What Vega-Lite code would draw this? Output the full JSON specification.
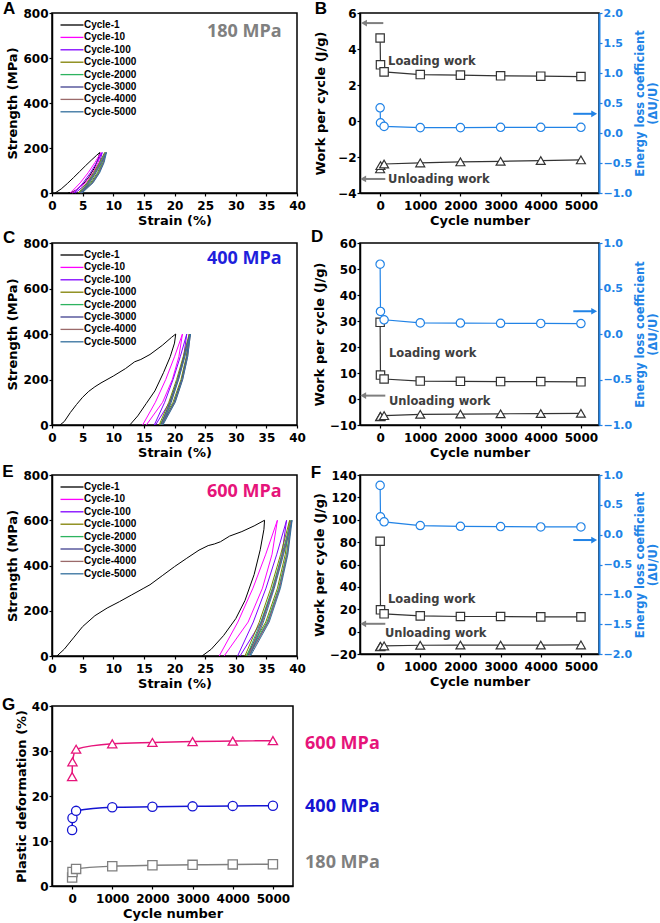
{
  "$schema": "https://vega.github.io/schema/vega-lite/v6.json",
  "background": "white",
  "autosize": {"type": "none"},
  "padding": {"left": 52, "top": 13, "right": 608, "bottom": 910},
  "config": {
    "view": {"stroke": "black", "strokeWidth": 1.5},
    "axis": {
      "grid": false, "labelOverlap": false, "labelFlush": false,
      "labelFont": "DejaVu Sans", "labelFontWeight": "bold", "labelFontSize": 12, "labelColor": "black",
      "titleFont": "DejaVu Sans", "titleFontWeight": "bold", "titleFontSize": 13, "titleColor": "black",
      "domainColor": "black", "domainWidth": 1.5, "tickColor": "black", "tickWidth": 1.2, "tickSize": 3,
      "labelPadding": 1, "titlePadding": 3
    },
    "axisX": {"labelPadding": 4, "titlePadding": 3},
    "legend": {
      "orient": "top-left", "offset": 6, "padding": 0,
      "labelFont": "Liberation Sans", "labelFontSize": 10, "labelFontWeight": "bold", "labelColor": "black",
      "symbolSize": 100, "symbolStrokeWidth": 1.3, "symbolOffset": 8, "labelOffset": 6, "rowPadding": 1.4
    }
  },
  "datasets": {
    "curveA": [
      {"c":"Cycle-1","o":0,"x":0.5,"y":0},{"c":"Cycle-1","o":1,"x":1.5,"y":18},{"c":"Cycle-1","o":2,"x":2.5,"y":42},{"c":"Cycle-1","o":3,"x":3.5,"y":68},{"c":"Cycle-1","o":4,"x":4.5,"y":95},{"c":"Cycle-1","o":5,"x":5.5,"y":122},{"c":"Cycle-1","o":6,"x":6.5,"y":148},{"c":"Cycle-1","o":7,"x":7.3,"y":168},{"c":"Cycle-1","o":8,"x":7.8,"y":180},{"c":"Cycle-1","o":9,"x":7.5,"y":150},{"c":"Cycle-1","o":10,"x":6.9,"y":110},{"c":"Cycle-1","o":11,"x":6.0,"y":70},{"c":"Cycle-1","o":12,"x":5.0,"y":37},{"c":"Cycle-1","o":13,"x":4.0,"y":14},{"c":"Cycle-1","o":14,"x":3.2,"y":3},{"c":"Cycle-1","o":15,"x":2.6,"y":0},
      {"c":"Cycle-10","o":0,"x":3.0,"y":0},{"c":"Cycle-10","o":1,"x":4.6,"y":45},{"c":"Cycle-10","o":2,"x":5.9,"y":90},{"c":"Cycle-10","o":3,"x":7.0,"y":135},{"c":"Cycle-10","o":4,"x":8.0,"y":180},{"c":"Cycle-10","o":5,"x":7.53,"y":135},{"c":"Cycle-10","o":6,"x":6.68,"y":90},{"c":"Cycle-10","o":7,"x":5.42,"y":45},{"c":"Cycle-10","o":8,"x":3.3,"y":0},
      {"c":"Cycle-100","o":0,"x":3.6,"y":0},{"c":"Cycle-100","o":1,"x":5.07,"y":45},{"c":"Cycle-100","o":2,"x":6.27,"y":90},{"c":"Cycle-100","o":3,"x":7.28,"y":135},{"c":"Cycle-100","o":4,"x":8.2,"y":180},{"c":"Cycle-100","o":5,"x":7.76,"y":135},{"c":"Cycle-100","o":6,"x":6.97,"y":90},{"c":"Cycle-100","o":7,"x":5.78,"y":45},{"c":"Cycle-100","o":8,"x":3.8,"y":0},
      {"c":"Cycle-1000","o":0,"x":4.3,"y":0},{"c":"Cycle-1000","o":1,"x":5.68,"y":45},{"c":"Cycle-1000","o":2,"x":6.79,"y":90},{"c":"Cycle-1000","o":3,"x":7.74,"y":135},{"c":"Cycle-1000","o":4,"x":8.6,"y":180},{"c":"Cycle-1000","o":5,"x":8.18,"y":135},{"c":"Cycle-1000","o":6,"x":7.42,"y":90},{"c":"Cycle-1000","o":7,"x":6.29,"y":45},{"c":"Cycle-1000","o":8,"x":4.4,"y":0},
      {"c":"Cycle-2000","o":0,"x":4.5,"y":0},{"c":"Cycle-2000","o":1,"x":5.84,"y":45},{"c":"Cycle-2000","o":2,"x":6.94,"y":90},{"c":"Cycle-2000","o":3,"x":7.86,"y":135},{"c":"Cycle-2000","o":4,"x":8.7,"y":180},{"c":"Cycle-2000","o":5,"x":8.29,"y":135},{"c":"Cycle-2000","o":6,"x":7.55,"y":90},{"c":"Cycle-2000","o":7,"x":6.45,"y":45},{"c":"Cycle-2000","o":8,"x":4.6,"y":0},
      {"c":"Cycle-3000","o":0,"x":4.6,"y":0},{"c":"Cycle-3000","o":1,"x":5.94,"y":45},{"c":"Cycle-3000","o":2,"x":7.04,"y":90},{"c":"Cycle-3000","o":3,"x":7.96,"y":135},{"c":"Cycle-3000","o":4,"x":8.8,"y":180},{"c":"Cycle-3000","o":5,"x":8.39,"y":135},{"c":"Cycle-3000","o":6,"x":7.65,"y":90},{"c":"Cycle-3000","o":7,"x":6.55,"y":45},{"c":"Cycle-3000","o":8,"x":4.7,"y":0},
      {"c":"Cycle-4000","o":0,"x":4.7,"y":0},{"c":"Cycle-4000","o":1,"x":6.01,"y":45},{"c":"Cycle-4000","o":2,"x":7.08,"y":90},{"c":"Cycle-4000","o":3,"x":7.98,"y":135},{"c":"Cycle-4000","o":4,"x":8.8,"y":180},{"c":"Cycle-4000","o":5,"x":8.4,"y":135},{"c":"Cycle-4000","o":6,"x":7.68,"y":90},{"c":"Cycle-4000","o":7,"x":6.6,"y":45},{"c":"Cycle-4000","o":8,"x":4.8,"y":0},
      {"c":"Cycle-5000","o":0,"x":4.8,"y":0},{"c":"Cycle-5000","o":1,"x":6.11,"y":45},{"c":"Cycle-5000","o":2,"x":7.18,"y":90},{"c":"Cycle-5000","o":3,"x":8.08,"y":135},{"c":"Cycle-5000","o":4,"x":8.9,"y":180},{"c":"Cycle-5000","o":5,"x":8.5,"y":135},{"c":"Cycle-5000","o":6,"x":7.78,"y":90},{"c":"Cycle-5000","o":7,"x":6.7,"y":45},{"c":"Cycle-5000","o":8,"x":4.9,"y":0}
    ],
    "curveC": [
      {"c":"Cycle-1","o":0,"x":1.3,"y":0},{"c":"Cycle-1","o":1,"x":2,"y":15},{"c":"Cycle-1","o":2,"x":3,"y":55},{"c":"Cycle-1","o":3,"x":4,"y":90},{"c":"Cycle-1","o":4,"x":5,"y":122},{"c":"Cycle-1","o":5,"x":6,"y":148},{"c":"Cycle-1","o":6,"x":7,"y":168},{"c":"Cycle-1","o":7,"x":8,"y":185},{"c":"Cycle-1","o":8,"x":10,"y":215},{"c":"Cycle-1","o":9,"x":12,"y":248},{"c":"Cycle-1","o":10,"x":13.5,"y":278},{"c":"Cycle-1","o":11,"x":14.5,"y":288},{"c":"Cycle-1","o":12,"x":16,"y":310},{"c":"Cycle-1","o":13,"x":18,"y":350},{"c":"Cycle-1","o":14,"x":19.5,"y":385},{"c":"Cycle-1","o":15,"x":20.2,"y":400},{"c":"Cycle-1","o":16,"x":20.0,"y":360},{"c":"Cycle-1","o":17,"x":19.3,"y":300},{"c":"Cycle-1","o":18,"x":18.2,"y":230},{"c":"Cycle-1","o":19,"x":16.8,"y":150},{"c":"Cycle-1","o":20,"x":15.4,"y":95},{"c":"Cycle-1","o":21,"x":14.0,"y":40},{"c":"Cycle-1","o":22,"x":12.7,"y":0},
      {"c":"Cycle-10","o":0,"x":14.8,"y":0},{"c":"Cycle-10","o":1,"x":16.88,"y":100},{"c":"Cycle-10","o":2,"x":18.57,"y":200},{"c":"Cycle-10","o":3,"x":20.0,"y":300},{"c":"Cycle-10","o":4,"x":21.3,"y":400},{"c":"Cycle-10","o":5,"x":20.71,"y":300},{"c":"Cycle-10","o":6,"x":19.65,"y":200},{"c":"Cycle-10","o":7,"x":18.06,"y":100},{"c":"Cycle-10","o":8,"x":15.4,"y":0},
      {"c":"Cycle-100","o":0,"x":16.7,"y":0},{"c":"Cycle-100","o":1,"x":18.4,"y":100},{"c":"Cycle-100","o":2,"x":19.77,"y":200},{"c":"Cycle-100","o":3,"x":20.94,"y":300},{"c":"Cycle-100","o":4,"x":22.0,"y":400},{"c":"Cycle-100","o":5,"x":21.49,"y":300},{"c":"Cycle-100","o":6,"x":20.57,"y":200},{"c":"Cycle-100","o":7,"x":19.2,"y":100},{"c":"Cycle-100","o":8,"x":16.9,"y":0},
      {"c":"Cycle-1000","o":0,"x":17.5,"y":0},{"c":"Cycle-1000","o":1,"x":19.07,"y":100},{"c":"Cycle-1000","o":2,"x":20.34,"y":200},{"c":"Cycle-1000","o":3,"x":21.42,"y":300},{"c":"Cycle-1000","o":4,"x":22.4,"y":400},{"c":"Cycle-1000","o":5,"x":21.92,"y":300},{"c":"Cycle-1000","o":6,"x":21.06,"y":200},{"c":"Cycle-1000","o":7,"x":19.76,"y":100},{"c":"Cycle-1000","o":8,"x":17.6,"y":0},
      {"c":"Cycle-2000","o":0,"x":17.7,"y":0},{"c":"Cycle-2000","o":1,"x":19.24,"y":100},{"c":"Cycle-2000","o":2,"x":20.48,"y":200},{"c":"Cycle-2000","o":3,"x":21.54,"y":300},{"c":"Cycle-2000","o":4,"x":22.5,"y":400},{"c":"Cycle-2000","o":5,"x":22.03,"y":300},{"c":"Cycle-2000","o":6,"x":21.18,"y":200},{"c":"Cycle-2000","o":7,"x":19.92,"y":100},{"c":"Cycle-2000","o":8,"x":17.8,"y":0},
      {"c":"Cycle-3000","o":0,"x":17.8,"y":0},{"c":"Cycle-3000","o":1,"x":19.3,"y":100},{"c":"Cycle-3000","o":2,"x":20.53,"y":200},{"c":"Cycle-3000","o":3,"x":21.56,"y":300},{"c":"Cycle-3000","o":4,"x":22.5,"y":400},{"c":"Cycle-3000","o":5,"x":22.04,"y":300},{"c":"Cycle-3000","o":6,"x":21.21,"y":200},{"c":"Cycle-3000","o":7,"x":19.97,"y":100},{"c":"Cycle-3000","o":8,"x":17.9,"y":0},
      {"c":"Cycle-4000","o":0,"x":17.9,"y":0},{"c":"Cycle-4000","o":1,"x":19.4,"y":100},{"c":"Cycle-4000","o":2,"x":20.63,"y":200},{"c":"Cycle-4000","o":3,"x":21.66,"y":300},{"c":"Cycle-4000","o":4,"x":22.6,"y":400},{"c":"Cycle-4000","o":5,"x":22.14,"y":300},{"c":"Cycle-4000","o":6,"x":21.31,"y":200},{"c":"Cycle-4000","o":7,"x":20.07,"y":100},{"c":"Cycle-4000","o":8,"x":18.0,"y":0},
      {"c":"Cycle-5000","o":0,"x":18.0,"y":0},{"c":"Cycle-5000","o":1,"x":19.47,"y":100},{"c":"Cycle-5000","o":2,"x":20.67,"y":200},{"c":"Cycle-5000","o":3,"x":21.68,"y":300},{"c":"Cycle-5000","o":4,"x":22.6,"y":400},{"c":"Cycle-5000","o":5,"x":22.15,"y":300},{"c":"Cycle-5000","o":6,"x":21.34,"y":200},{"c":"Cycle-5000","o":7,"x":20.13,"y":100},{"c":"Cycle-5000","o":8,"x":18.1,"y":0}
    ],
    "curveE": [
      {"c":"Cycle-1","o":0,"x":0.8,"y":0},{"c":"Cycle-1","o":1,"x":2,"y":30},{"c":"Cycle-1","o":2,"x":3.5,"y":80},{"c":"Cycle-1","o":3,"x":5,"y":130},{"c":"Cycle-1","o":4,"x":7,"y":178},{"c":"Cycle-1","o":5,"x":9,"y":212},{"c":"Cycle-1","o":6,"x":11,"y":240},{"c":"Cycle-1","o":7,"x":13,"y":270},{"c":"Cycle-1","o":8,"x":15,"y":300},{"c":"Cycle-1","o":9,"x":16,"y":315},{"c":"Cycle-1","o":10,"x":18,"y":355},{"c":"Cycle-1","o":11,"x":20,"y":395},{"c":"Cycle-1","o":12,"x":22,"y":432},{"c":"Cycle-1","o":13,"x":24,"y":468},{"c":"Cycle-1","o":14,"x":25.5,"y":488},{"c":"Cycle-1","o":15,"x":26.5,"y":495},{"c":"Cycle-1","o":16,"x":27.5,"y":505},{"c":"Cycle-1","o":17,"x":29,"y":530},{"c":"Cycle-1","o":18,"x":31,"y":550},{"c":"Cycle-1","o":19,"x":33,"y":575},{"c":"Cycle-1","o":20,"x":34.7,"y":600},{"c":"Cycle-1","o":21,"x":34.6,"y":560},{"c":"Cycle-1","o":22,"x":34.0,"y":470},{"c":"Cycle-1","o":23,"x":33,"y":360},{"c":"Cycle-1","o":24,"x":31.5,"y":245},{"c":"Cycle-1","o":25,"x":30,"y":165},{"c":"Cycle-1","o":26,"x":28,"y":90},{"c":"Cycle-1","o":27,"x":26,"y":30},{"c":"Cycle-1","o":28,"x":24.5,"y":0},
      {"c":"Cycle-10","o":0,"x":27.3,"y":0},{"c":"Cycle-10","o":1,"x":30.34,"y":150},{"c":"Cycle-10","o":2,"x":32.81,"y":300},{"c":"Cycle-10","o":3,"x":34.9,"y":450},{"c":"Cycle-10","o":4,"x":36.8,"y":600},{"c":"Cycle-10","o":5,"x":35.93,"y":450},{"c":"Cycle-10","o":6,"x":34.36,"y":300},{"c":"Cycle-10","o":7,"x":32.02,"y":150},{"c":"Cycle-10","o":8,"x":28.1,"y":0},
      {"c":"Cycle-100","o":0,"x":30.3,"y":0},{"c":"Cycle-100","o":1,"x":32.86,"y":150},{"c":"Cycle-100","o":2,"x":34.94,"y":300},{"c":"Cycle-100","o":3,"x":36.7,"y":450},{"c":"Cycle-100","o":4,"x":38.3,"y":600},{"c":"Cycle-100","o":5,"x":37.54,"y":450},{"c":"Cycle-100","o":6,"x":36.17,"y":300},{"c":"Cycle-100","o":7,"x":34.12,"y":150},{"c":"Cycle-100","o":8,"x":30.7,"y":0},
      {"c":"Cycle-1000","o":0,"x":31.5,"y":0},{"c":"Cycle-1000","o":1,"x":33.84,"y":150},{"c":"Cycle-1000","o":2,"x":35.73,"y":300},{"c":"Cycle-1000","o":3,"x":37.34,"y":450},{"c":"Cycle-1000","o":4,"x":38.8,"y":600},{"c":"Cycle-1000","o":5,"x":38.09,"y":450},{"c":"Cycle-1000","o":6,"x":36.81,"y":300},{"c":"Cycle-1000","o":7,"x":34.9,"y":150},{"c":"Cycle-1000","o":8,"x":31.7,"y":0},
      {"c":"Cycle-2000","o":0,"x":31.8,"y":0},{"c":"Cycle-2000","o":1,"x":34.1,"y":150},{"c":"Cycle-2000","o":2,"x":35.98,"y":300},{"c":"Cycle-2000","o":3,"x":37.56,"y":450},{"c":"Cycle-2000","o":4,"x":39.0,"y":600},{"c":"Cycle-2000","o":5,"x":38.29,"y":450},{"c":"Cycle-2000","o":6,"x":37.01,"y":300},{"c":"Cycle-2000","o":7,"x":35.1,"y":150},{"c":"Cycle-2000","o":8,"x":31.9,"y":0},
      {"c":"Cycle-3000","o":0,"x":32.0,"y":0},{"c":"Cycle-3000","o":1,"x":34.27,"y":150},{"c":"Cycle-3000","o":2,"x":36.12,"y":300},{"c":"Cycle-3000","o":3,"x":37.68,"y":450},{"c":"Cycle-3000","o":4,"x":39.1,"y":600},{"c":"Cycle-3000","o":5,"x":38.4,"y":450},{"c":"Cycle-3000","o":6,"x":37.14,"y":300},{"c":"Cycle-3000","o":7,"x":35.25,"y":150},{"c":"Cycle-3000","o":8,"x":32.1,"y":0},
      {"c":"Cycle-4000","o":0,"x":32.1,"y":0},{"c":"Cycle-4000","o":1,"x":34.34,"y":150},{"c":"Cycle-4000","o":2,"x":36.16,"y":300},{"c":"Cycle-4000","o":3,"x":37.7,"y":450},{"c":"Cycle-4000","o":4,"x":39.1,"y":600},{"c":"Cycle-4000","o":5,"x":38.41,"y":450},{"c":"Cycle-4000","o":6,"x":37.17,"y":300},{"c":"Cycle-4000","o":7,"x":35.31,"y":150},{"c":"Cycle-4000","o":8,"x":32.2,"y":0},
      {"c":"Cycle-5000","o":0,"x":32.3,"y":0},{"c":"Cycle-5000","o":1,"x":34.51,"y":150},{"c":"Cycle-5000","o":2,"x":36.3,"y":300},{"c":"Cycle-5000","o":3,"x":37.82,"y":450},{"c":"Cycle-5000","o":4,"x":39.2,"y":600},{"c":"Cycle-5000","o":5,"x":38.52,"y":450},{"c":"Cycle-5000","o":6,"x":37.3,"y":300},{"c":"Cycle-5000","o":7,"x":35.46,"y":150},{"c":"Cycle-5000","o":8,"x":32.4,"y":0}
    ],
    "workB": [
      {"n":1,"load":4.61,"unload":-2.66,"loss":0.42},{"n":10,"load":3.12,"unload":-2.48,"loss":0.17},{"n":100,"load":2.73,"unload":-2.39,"loss":0.11},{"n":1000,"load":2.58,"unload":-2.33,"loss":0.09},{"n":2000,"load":2.55,"unload":-2.27,"loss":0.09},{"n":3000,"load":2.51,"unload":-2.24,"loss":0.095},{"n":4000,"load":2.49,"unload":-2.2,"loss":0.095},{"n":5000,"load":2.47,"unload":-2.16,"loss":0.095}
    ],
    "workD": [
      {"n":1,"load":29.5,"unload":-6.8,"loss":0.767},{"n":10,"load":9.2,"unload":-6.7,"loss":0.248},{"n":100,"load":7.7,"unload":-6.4,"loss":0.156},{"n":1000,"load":6.9,"unload":-5.9,"loss":0.122},{"n":2000,"load":6.8,"unload":-5.8,"loss":0.12},{"n":3000,"load":6.7,"unload":-5.7,"loss":0.118},{"n":4000,"load":6.7,"unload":-5.6,"loss":0.116},{"n":5000,"load":6.6,"unload":-5.5,"loss":0.115}
    ],
    "workF": [
      {"n":1,"load":80.8,"unload":-13.5,"loss":0.826},{"n":10,"load":19.5,"unload":-13.2,"loss":0.3},{"n":100,"load":15.9,"unload":-12.8,"loss":0.215},{"n":1000,"load":14.1,"unload":-12.2,"loss":0.153},{"n":2000,"load":13.5,"unload":-12.0,"loss":0.14},{"n":3000,"load":13.5,"unload":-12.0,"loss":0.136},{"n":4000,"load":13.2,"unload":-12.0,"loss":0.13},{"n":5000,"load":13.2,"unload":-11.9,"loss":0.13}
    ],
    "plastic": [
      {"s":"600 MPa","n":1,"v":24.3},{"s":"600 MPa","n":10,"v":27.6},{"s":"600 MPa","n":100,"v":30.4},{"s":"600 MPa","n":1000,"v":31.6},{"s":"600 MPa","n":2000,"v":31.9},{"s":"600 MPa","n":3000,"v":32.1},{"s":"600 MPa","n":4000,"v":32.2},{"s":"600 MPa","n":5000,"v":32.3},
      {"s":"400 MPa","n":1,"v":12.45},{"s":"400 MPa","n":10,"v":15.1},{"s":"400 MPa","n":100,"v":16.7},{"s":"400 MPa","n":1000,"v":17.5},{"s":"400 MPa","n":2000,"v":17.6},{"s":"400 MPa","n":3000,"v":17.7},{"s":"400 MPa","n":4000,"v":17.8},{"s":"400 MPa","n":5000,"v":17.85},
      {"s":"180 MPa","n":1,"v":1.9},{"s":"180 MPa","n":10,"v":3.1},{"s":"180 MPa","n":100,"v":3.8},{"s":"180 MPa","n":1000,"v":4.4},{"s":"180 MPa","n":2000,"v":4.6},{"s":"180 MPa","n":3000,"v":4.7},{"s":"180 MPa","n":4000,"v":4.8},{"s":"180 MPa","n":5000,"v":4.85}
    ]
  },
  "columns": 2,
  "bounds": "flush",
  "spacing": {"row": 50, "column": 63},
  "resolve": {"scale": {"color": "independent", "shape": "independent"}, "legend": {"color": "independent", "shape": "independent"}},
  "concat": [
    {
      "width": 245, "height": 180,
      "layer": [
        {
          "data": {"name": "curveA"},
          "mark": {"type": "line", "strokeWidth": 1},
          "encoding": {
            "x": {"field": "x", "type": "quantitative", "scale": {"domain": [0, 40], "nice": false}, "axis": {"values": [0,5,10,15,20,25,30,35,40], "tickCount": 30, "format": "d", "title": "Strain (%)"}},
            "y": {"field": "y", "type": "quantitative", "scale": {"domain": [0, 800], "nice": false}, "axis": {"values": [0,200,400,600,800], "tickCount": 30, "format": "d", "title": "Strength (MPa)"}},
            "color": {"field": "c", "type": "nominal", "scale": {"domain": ["Cycle-1","Cycle-10","Cycle-100","Cycle-1000","Cycle-2000","Cycle-3000","Cycle-4000","Cycle-5000"], "range": ["#000000","#FF00FF","#8000FF","#808000","#2DB35F","#40408F","#9B6A6A","#33709E"]}, "legend": {"title": null, "symbolType": "M-2.3,0H2.3"}},
            "order": {"field": "o", "type": "quantitative"}
          }
        },
        {
          "data": {"values": [{}]},
          "mark": {"type": "text", "text": "180 MPa", "font": "Open Sans", "fontWeight": "bold", "fontSize": 18, "color": "#808080", "align": "left", "baseline": "middle"},
          "encoding": {"x": {"datum": 25.3}, "y": {"datum": 716}}
        },
        {
          "data": {"values": [{}]},
          "mark": {"type": "text", "text": "A", "font": "Liberation Sans", "fontWeight": "bold", "fontSize": 17, "color": "black", "align": "center", "baseline": "middle"},
          "encoding": {"x": {"datum": -7}, "y": {"datum": 817}}
        }
      ]
    },
    {
      "width": 239, "height": 180,
      "resolve": {"scale": {"y": "independent"}},
      "layer": [
        {
          "data": {"name": "workB"},
          "layer": [
            {"mark": {"type": "line", "color": "#333333", "strokeWidth": 1.2},
             "encoding": {
               "x": {"field": "n", "type": "quantitative", "scale": {"domain": [-500, 5450], "nice": false, "zero": false}, "axis": {"values": [0,1000,2000,3000,4000,5000], "tickCount": 30, "format": "d", "title": "Cycle number"}},
               "y": {"field": "load", "type": "quantitative", "scale": {"domain": [-4, 6], "nice": false, "zero": false}, "axis": {"values": [-4,-2,0,2,4,6], "tickCount": 30, "format": "d", "title": "Work per cycle (J/g)", "titlePadding": 10}}}},
            {"mark": {"type": "point", "shape": "square", "filled": false, "fill": "white", "color": "#333333", "size": 70, "strokeWidth": 1.2, "opacity": 1},
             "encoding": {"x": {"field": "n", "type": "quantitative"}, "y": {"field": "load", "type": "quantitative"}}},
            {"mark": {"type": "line", "color": "#333333", "strokeWidth": 1.2},
             "encoding": {"x": {"field": "n", "type": "quantitative"}, "y": {"field": "unload", "type": "quantitative"}}},
            {"mark": {"type": "point", "shape": "triangle-up", "filled": false, "fill": "white", "color": "#333333", "size": 80, "strokeWidth": 1.2, "opacity": 1},
             "encoding": {"x": {"field": "n", "type": "quantitative"}, "y": {"field": "unload", "type": "quantitative"}}},
            {"data": {"values": [{"t": "Loading work", "x": 200, "y": 3.3}, {"t": "Unloading work", "x": 200, "y": -3.27}]},
             "mark": {"type": "text", "font": "DejaVu Sans", "fontWeight": "bold", "fontSize": 11.5, "color": "#404040", "align": "left", "baseline": "middle"},
             "encoding": {"x": {"field": "x", "type": "quantitative"}, "y": {"field": "y", "type": "quantitative"}, "text": {"field": "t"}}},
            {"data": {"values": [{"x1": -400, "x2": 80, "y": 5.44}, {"x1": -420, "x2": 130, "y": -3.22}]},
             "mark": {"type": "rule", "color": "#7F7F7F", "strokeWidth": 2},
             "encoding": {"x": {"field": "x1", "type": "quantitative"}, "x2": {"field": "x2"}, "y": {"field": "y", "type": "quantitative"}}},
            {"data": {"values": [{"x1": -400, "y": 5.44}, {"x1": -420, "y": -3.22}]},
             "mark": {"type": "point", "shape": "triangle-left", "filled": true, "color": "#7F7F7F", "size": 45, "opacity": 1},
             "encoding": {"x": {"field": "x1", "type": "quantitative"}, "y": {"field": "y", "type": "quantitative"}}},
            {"data": {"values": [{}]},
             "mark": {"type": "text", "text": "B", "font": "Liberation Sans", "fontWeight": "bold", "fontSize": 17, "color": "black", "align": "center", "baseline": "middle"},
             "encoding": {"x": {"datum": -1471}, "y": {"datum": 6.22}}}
          ]
        },
        {
          "data": {"name": "workB"},
          "layer": [
            {"mark": {"type": "line", "color": "#2183E6", "strokeWidth": 1.2},
             "encoding": {
               "x": {"field": "n", "type": "quantitative"},
               "y": {"field": "loss", "type": "quantitative", "scale": {"domain": [-1, 2], "nice": false, "zero": false}, "axis": {"orient": "right", "values": [-1,-0.5,0,0.5,1,1.5,2], "tickCount": 30, "format": ".1f", "labelFontSize": 11, "title": ["Energy loss coefficient", "(ΔU/U)"], "titleAngle": 270, "titleFontSize": 11.5, "titleLineHeight": 13, "titlePadding": 1, "labelColor": "#2183E6", "titleColor": "#2183E6", "domainColor": "#2183E6", "tickColor": "#2183E6", "domainWidth": 2}}}},
            {"mark": {"type": "point", "shape": "circle", "filled": false, "fill": "white", "color": "#2183E6", "size": 70, "strokeWidth": 1.2, "opacity": 1},
             "encoding": {"x": {"field": "n", "type": "quantitative"}, "y": {"field": "loss", "type": "quantitative"}}},
            {"data": {"values": [{"x1": 4810, "x2": 5330, "y": 0.32}]},
             "mark": {"type": "rule", "color": "#2183E6", "strokeWidth": 2},
             "encoding": {"x": {"field": "x1", "type": "quantitative"}, "x2": {"field": "x2"}, "y": {"field": "y", "type": "quantitative"}}},
            {"data": {"values": [{"x2": 5330, "y": 0.32}]},
             "mark": {"type": "point", "shape": "triangle-right", "filled": true, "color": "#2183E6", "size": 45, "opacity": 1},
             "encoding": {"x": {"field": "x2", "type": "quantitative"}, "y": {"field": "y", "type": "quantitative"}}}
          ]
        }
      ]
    },
    {
      "width": 245, "height": 182,
      "layer": [
        {
          "data": {"name": "curveC"},
          "mark": {"type": "line", "strokeWidth": 1},
          "encoding": {
            "x": {"field": "x", "type": "quantitative", "scale": {"domain": [0, 40], "nice": false}, "axis": {"values": [0,5,10,15,20,25,30,35,40], "tickCount": 30, "format": "d", "title": "Strain (%)"}},
            "y": {"field": "y", "type": "quantitative", "scale": {"domain": [0, 800], "nice": false}, "axis": {"values": [0,200,400,600,800], "tickCount": 30, "format": "d", "title": "Strength (MPa)"}},
            "color": {"field": "c", "type": "nominal", "scale": {"domain": ["Cycle-1","Cycle-10","Cycle-100","Cycle-1000","Cycle-2000","Cycle-3000","Cycle-4000","Cycle-5000"], "range": ["#000000","#FF00FF","#8000FF","#808000","#2DB35F","#40408F","#9B6A6A","#33709E"]}, "legend": {"title": null, "symbolType": "M-2.3,0H2.3"}},
            "order": {"field": "o", "type": "quantitative"}
          }
        },
        {
          "data": {"values": [{}]},
          "mark": {"type": "text", "text": "400 MPa", "font": "Open Sans", "fontWeight": "bold", "fontSize": 18, "color": "#1F1FDC", "align": "left", "baseline": "middle"},
          "encoding": {"x": {"datum": 25.3}, "y": {"datum": 729}}
        },
        {
          "data": {"values": [{}]},
          "mark": {"type": "text", "text": "C", "font": "Liberation Sans", "fontWeight": "bold", "fontSize": 17, "color": "black", "align": "center", "baseline": "middle"},
          "encoding": {"x": {"datum": -7}, "y": {"datum": 822}}
        }
      ]
    },
    {
      "width": 239, "height": 182,
      "resolve": {"scale": {"y": "independent"}},
      "layer": [
        {
          "data": {"name": "workD"},
          "layer": [
            {"mark": {"type": "line", "color": "#333333", "strokeWidth": 1.2},
             "encoding": {
               "x": {"field": "n", "type": "quantitative", "scale": {"domain": [-500, 5450], "nice": false, "zero": false}, "axis": {"values": [0,1000,2000,3000,4000,5000], "tickCount": 30, "format": "d", "title": "Cycle number"}},
               "y": {"field": "load", "type": "quantitative", "scale": {"domain": [-10, 60], "nice": false, "zero": false}, "axis": {"values": [-10,0,10,20,30,40,50,60], "tickCount": 30, "format": "d", "title": "Work per cycle (J/g)"}}}},
            {"mark": {"type": "point", "shape": "square", "filled": false, "fill": "white", "color": "#333333", "size": 70, "strokeWidth": 1.2, "opacity": 1},
             "encoding": {"x": {"field": "n", "type": "quantitative"}, "y": {"field": "load", "type": "quantitative"}}},
            {"mark": {"type": "line", "color": "#333333", "strokeWidth": 1.2},
             "encoding": {"x": {"field": "n", "type": "quantitative"}, "y": {"field": "unload", "type": "quantitative"}}},
            {"mark": {"type": "point", "shape": "triangle-up", "filled": false, "fill": "white", "color": "#333333", "size": 80, "strokeWidth": 1.2, "opacity": 1},
             "encoding": {"x": {"field": "n", "type": "quantitative"}, "y": {"field": "unload", "type": "quantitative"}}},
            {"data": {"values": [{"t": "Loading work", "x": 220, "y": 17.2}, {"t": "Unloading work", "x": 220, "y": -1.3}]},
             "mark": {"type": "text", "font": "DejaVu Sans", "fontWeight": "bold", "fontSize": 11.5, "color": "#404040", "align": "left", "baseline": "middle"},
             "encoding": {"x": {"field": "x", "type": "quantitative"}, "y": {"field": "y", "type": "quantitative"}, "text": {"field": "t"}}},
            {"data": {"values": [{"x1": -420, "x2": 130, "y": 1.3}]},
             "mark": {"type": "rule", "color": "#7F7F7F", "strokeWidth": 2},
             "encoding": {"x": {"field": "x1", "type": "quantitative"}, "x2": {"field": "x2"}, "y": {"field": "y", "type": "quantitative"}}},
            {"data": {"values": [{"x1": -420, "y": 1.3}]},
             "mark": {"type": "point", "shape": "triangle-left", "filled": true, "color": "#7F7F7F", "size": 45, "opacity": 1},
             "encoding": {"x": {"field": "x1", "type": "quantitative"}, "y": {"field": "y", "type": "quantitative"}}},
            {"data": {"values": [{}]},
             "mark": {"type": "text", "text": "D", "font": "Liberation Sans", "fontWeight": "bold", "fontSize": 17, "color": "black", "align": "center", "baseline": "middle"},
             "encoding": {"x": {"datum": -1570}, "y": {"datum": 62.5}}}
          ]
        },
        {
          "data": {"name": "workD"},
          "layer": [
            {"mark": {"type": "line", "color": "#2183E6", "strokeWidth": 1.2},
             "encoding": {
               "x": {"field": "n", "type": "quantitative"},
               "y": {"field": "loss", "type": "quantitative", "scale": {"domain": [-1, 1], "nice": false, "zero": false}, "axis": {"orient": "right", "values": [-1,-0.5,0,0.5,1], "tickCount": 30, "format": ".1f", "labelFontSize": 11, "title": ["Energy loss coefficient", "(ΔU/U)"], "titleAngle": 270, "titleFontSize": 11.5, "titleLineHeight": 13, "titlePadding": 1, "labelColor": "#2183E6", "titleColor": "#2183E6", "domainColor": "#2183E6", "tickColor": "#2183E6", "domainWidth": 2}}}},
            {"mark": {"type": "point", "shape": "circle", "filled": false, "fill": "white", "color": "#2183E6", "size": 70, "strokeWidth": 1.2, "opacity": 1},
             "encoding": {"x": {"field": "n", "type": "quantitative"}, "y": {"field": "loss", "type": "quantitative"}}},
            {"data": {"values": [{"x1": 4810, "x2": 5330, "y": 0.25}]},
             "mark": {"type": "rule", "color": "#2183E6", "strokeWidth": 2},
             "encoding": {"x": {"field": "x1", "type": "quantitative"}, "x2": {"field": "x2"}, "y": {"field": "y", "type": "quantitative"}}},
            {"data": {"values": [{"x2": 5330, "y": 0.25}]},
             "mark": {"type": "point", "shape": "triangle-right", "filled": true, "color": "#2183E6", "size": 45, "opacity": 1},
             "encoding": {"x": {"field": "x2", "type": "quantitative"}, "y": {"field": "y", "type": "quantitative"}}}
          ]
        }
      ]
    },
    {
      "width": 245, "height": 181,
      "layer": [
        {
          "data": {"name": "curveE"},
          "mark": {"type": "line", "strokeWidth": 1},
          "encoding": {
            "x": {"field": "x", "type": "quantitative", "scale": {"domain": [0, 40], "nice": false}, "axis": {"values": [0,5,10,15,20,25,30,35,40], "tickCount": 30, "format": "d", "title": "Strain (%)"}},
            "y": {"field": "y", "type": "quantitative", "scale": {"domain": [0, 800], "nice": false}, "axis": {"values": [0,200,400,600,800], "tickCount": 30, "format": "d", "title": "Strength (MPa)"}},
            "color": {"field": "c", "type": "nominal", "scale": {"domain": ["Cycle-1","Cycle-10","Cycle-100","Cycle-1000","Cycle-2000","Cycle-3000","Cycle-4000","Cycle-5000"], "range": ["#000000","#FF00FF","#8000FF","#808000","#2DB35F","#40408F","#9B6A6A","#33709E"]}, "legend": {"title": null, "symbolType": "M-2.3,0H2.3"}},
            "order": {"field": "o", "type": "quantitative"}
          }
        },
        {
          "data": {"values": [{}]},
          "mark": {"type": "text", "text": "600 MPa", "font": "Open Sans", "fontWeight": "bold", "fontSize": 18, "color": "#E6147A", "align": "left", "baseline": "middle"},
          "encoding": {"x": {"datum": 25.3}, "y": {"datum": 725}}
        },
        {
          "data": {"values": [{}]},
          "mark": {"type": "text", "text": "E", "font": "Liberation Sans", "fontWeight": "bold", "fontSize": 17, "color": "black", "align": "center", "baseline": "middle"},
          "encoding": {"x": {"datum": -7.2}, "y": {"datum": 815}}
        }
      ]
    },
    {
      "width": 239, "height": 179,
      "resolve": {"scale": {"y": "independent"}},
      "layer": [
        {
          "data": {"name": "workF"},
          "layer": [
            {"mark": {"type": "line", "color": "#333333", "strokeWidth": 1.2},
             "encoding": {
               "x": {"field": "n", "type": "quantitative", "scale": {"domain": [-500, 5450], "nice": false, "zero": false}, "axis": {"values": [0,1000,2000,3000,4000,5000], "tickCount": 30, "format": "d", "title": "Cycle number"}},
               "y": {"field": "load", "type": "quantitative", "scale": {"domain": [-20, 140], "nice": false, "zero": false}, "axis": {"values": [-20,0,20,40,60,80,100,120,140], "tickCount": 30, "format": "d", "title": "Work per cycle (J/g)"}}}},
            {"mark": {"type": "point", "shape": "square", "filled": false, "fill": "white", "color": "#333333", "size": 70, "strokeWidth": 1.2, "opacity": 1},
             "encoding": {"x": {"field": "n", "type": "quantitative"}, "y": {"field": "load", "type": "quantitative"}}},
            {"mark": {"type": "line", "color": "#333333", "strokeWidth": 1.2},
             "encoding": {"x": {"field": "n", "type": "quantitative"}, "y": {"field": "unload", "type": "quantitative"}}},
            {"mark": {"type": "point", "shape": "triangle-up", "filled": false, "fill": "white", "color": "#333333", "size": 80, "strokeWidth": 1.2, "opacity": 1},
             "encoding": {"x": {"field": "n", "type": "quantitative"}, "y": {"field": "unload", "type": "quantitative"}}},
            {"data": {"values": [{"t": "Loading work", "x": 195, "y": 28}, {"t": "Unloading work", "x": 120, "y": -2}]},
             "mark": {"type": "text", "font": "DejaVu Sans", "fontWeight": "bold", "fontSize": 11.5, "color": "#404040", "align": "left", "baseline": "middle"},
             "encoding": {"x": {"field": "x", "type": "quantitative"}, "y": {"field": "y", "type": "quantitative"}, "text": {"field": "t"}}},
            {"data": {"values": [{"x1": -420, "x2": 130, "y": 7}]},
             "mark": {"type": "rule", "color": "#7F7F7F", "strokeWidth": 2},
             "encoding": {"x": {"field": "x1", "type": "quantitative"}, "x2": {"field": "x2"}, "y": {"field": "y", "type": "quantitative"}}},
            {"data": {"values": [{"x1": -420, "y": 7}]},
             "mark": {"type": "point", "shape": "triangle-left", "filled": true, "color": "#7F7F7F", "size": 45, "opacity": 1},
             "encoding": {"x": {"field": "x1", "type": "quantitative"}, "y": {"field": "y", "type": "quantitative"}}},
            {"data": {"values": [{}]},
             "mark": {"type": "text", "text": "F", "font": "Liberation Sans", "fontWeight": "bold", "fontSize": 17, "color": "black", "align": "center", "baseline": "middle"},
             "encoding": {"x": {"datum": -1595}, "y": {"datum": 141.8}}}
          ]
        },
        {
          "data": {"name": "workF"},
          "layer": [
            {"mark": {"type": "line", "color": "#2183E6", "strokeWidth": 1.2},
             "encoding": {
               "x": {"field": "n", "type": "quantitative"},
               "y": {"field": "loss", "type": "quantitative", "scale": {"domain": [-2, 1], "nice": false, "zero": false}, "axis": {"orient": "right", "values": [-2,-1.5,-1,-0.5,0,0.5,1], "tickCount": 30, "format": ".1f", "labelFontSize": 11, "title": ["Energy loss coefficient", "(ΔU/U)"], "titleAngle": 270, "titleFontSize": 11.5, "titleLineHeight": 13, "titlePadding": 1, "labelColor": "#2183E6", "titleColor": "#2183E6", "domainColor": "#2183E6", "tickColor": "#2183E6", "domainWidth": 2}}}},
            {"mark": {"type": "point", "shape": "circle", "filled": false, "fill": "white", "color": "#2183E6", "size": 70, "strokeWidth": 1.2, "opacity": 1},
             "encoding": {"x": {"field": "n", "type": "quantitative"}, "y": {"field": "loss", "type": "quantitative"}}},
            {"data": {"values": [{"x1": 4810, "x2": 5330, "y": -0.09}]},
             "mark": {"type": "rule", "color": "#2183E6", "strokeWidth": 2},
             "encoding": {"x": {"field": "x1", "type": "quantitative"}, "x2": {"field": "x2"}, "y": {"field": "y", "type": "quantitative"}}},
            {"data": {"values": [{"x2": 5330, "y": -0.09}]},
             "mark": {"type": "point", "shape": "triangle-right", "filled": true, "color": "#2183E6", "size": 45, "opacity": 1},
             "encoding": {"x": {"field": "x2", "type": "quantitative"}, "y": {"field": "y", "type": "quantitative"}}}
          ]
        }
      ]
    },
    {
      "width": 241, "height": 180,
      "layer": [
        {
          "data": {"name": "plastic"},
          "mark": {"type": "line", "interpolate": "monotone", "strokeWidth": 1.5},
          "encoding": {
            "x": {"field": "n", "type": "quantitative", "scale": {"domain": [-500, 5500], "nice": false, "zero": false}, "axis": {"values": [0,1000,2000,3000,4000,5000], "tickCount": 30, "format": "d", "title": "Cycle number"}},
            "y": {"field": "v", "type": "quantitative", "scale": {"domain": [0, 40], "nice": false}, "axis": {"values": [0,10,20,30,40], "tickCount": 30, "format": "d", "title": "Plastic deformation (%)"}},
            "color": {"field": "s", "type": "nominal", "scale": {"domain": ["600 MPa", "400 MPa", "180 MPa"], "range": ["#E6147A", "#1414D2", "#7F7F7F"]}, "legend": null}
          }
        },
        {
          "data": {"name": "plastic"},
          "mark": {"type": "point", "filled": false, "fill": "white", "size": 85, "strokeWidth": 1.3, "opacity": 1},
          "encoding": {
            "x": {"field": "n", "type": "quantitative"},
            "y": {"field": "v", "type": "quantitative"},
            "color": {"field": "s", "type": "nominal", "legend": null},
            "shape": {"field": "s", "type": "nominal", "scale": {"domain": ["600 MPa", "400 MPa", "180 MPa"], "range": ["triangle-up", "circle", "square"]}, "legend": null}
          }
        },
        {
          "data": {"values": [{"s": "600 MPa", "y": 31.6}, {"s": "400 MPa", "y": 17.6}, {"s": "180 MPa", "y": 5.1}]},
          "mark": {"type": "text", "font": "Open Sans", "fontWeight": "bold", "fontSize": 18, "align": "left", "baseline": "middle"},
          "encoding": {
            "x": {"datum": 5800},
            "y": {"field": "y", "type": "quantitative"},
            "text": {"field": "s"},
            "color": {"field": "s", "type": "nominal", "legend": null}
          }
        },
        {
          "data": {"values": [{}]},
          "mark": {"type": "text", "text": "G", "font": "Liberation Sans", "fontWeight": "bold", "fontSize": 17, "color": "black", "align": "center", "baseline": "middle"},
          "encoding": {"x": {"datum": -1583}, "y": {"datum": 40.2}}
        }
      ]
    }
  ]
}
